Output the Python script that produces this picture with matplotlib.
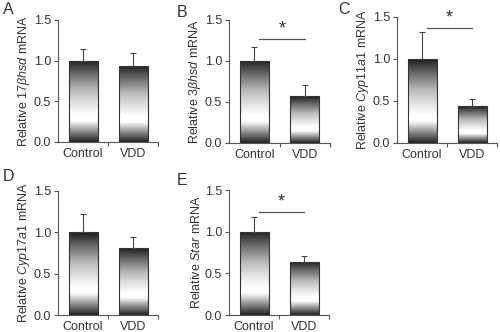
import numpy as np
import matplotlib
matplotlib.use("Agg")
import matplotlib.pyplot as plt
from matplotlib.colors import LinearSegmentedColormap

plt.rcParams['font.family'] = ['Liberation Sans', 'DejaVu Sans']
plt.rcParams['mathtext.fontset'] = 'custom'
plt.rcParams['mathtext.rm'] = 'Liberation Sans'
plt.rcParams['mathtext.it'] = 'Liberation Sans:italic'

# Data
groups = ["Control", "VDD"]
panel_letters = ["A", "B", "C", "D", "E"]
genes = [r"$\mathit{17\beta hsd}$", r"$\mathit{3\beta hsd}$", r"$\mathit{Cyp11a1}$",
         r"$\mathit{Cyp17a1}$", r"$\mathit{Star}$"]
means = [[1.00, 0.94], [1.00, 0.57], [1.00, 0.44], [1.00, 0.81], [1.00, 0.64]]
errors = [[0.14, 0.16], [0.17, 0.14], [0.32, 0.08], [0.22, 0.13], [0.18, 0.07]]
significant = [False, True, True, False, True]
yticks = [0.0, 0.5, 1.0, 1.5]

# Layout (figure fractions: left, bottom, width, height)
axes_rects = [
    (0.116, 0.5723, 0.200, 0.3675),
    (0.458, 0.5693, 0.202, 0.3705),
    (0.794, 0.5693, 0.200, 0.3795),
    (0.116, 0.0512, 0.200, 0.3735),
    (0.458, 0.0512, 0.200, 0.3765),
]
# panel letter positions (figure fractions, top-left of glyph)
letter_pos = [(0.006, 0.994), (0.354, 0.985), (0.676, 0.994),
              (0.006, 0.490), (0.354, 0.480)]
sig_line_y = {1: 1.27, 2: 1.37, 4: 1.24}

# Vertical chrome-like gradient used to fill the bars (bottom -> top)
grad = LinearSegmentedColormap.from_list("chrome", [
    (0.00, (0.13, 0.13, 0.13)),
    (0.12, (0.52, 0.52, 0.52)),
    (0.26, (1.00, 1.00, 1.00)),
    (0.34, (1.00, 1.00, 1.00)),
    (0.50, (0.86, 0.86, 0.86)),
    (0.64, (0.72, 0.72, 0.72)),
    (0.84, (0.40, 0.40, 0.40)),
    (1.00, (0.12, 0.12, 0.12)),
])
gradient = np.linspace(0, 1, 256).reshape(-1, 1)

text_color = "#333333"
spine_color = "#555555"
bar_width = 0.58
fs = 9

fig = plt.figure(figsize=(5.0, 3.32), dpi=100)

for i, rect in enumerate(axes_rects):
    ax = fig.add_axes(rect)
    x = np.arange(len(groups))
    bars = ax.bar(x, means[i], width=bar_width, color="none",
                  edgecolor="#333333", linewidth=0.8, zorder=3)
    for b in bars:
        x0, y0 = b.get_x(), b.get_y()
        w, h = b.get_width(), b.get_height()
        im = ax.imshow(gradient, cmap=grad, origin="lower", aspect="auto",
                       extent=(x0, x0 + w, y0, y0 + h), zorder=2,
                       interpolation="bilinear")
        im.set_clip_path(b)
    ax.errorbar(x, means[i], yerr=[np.zeros(2), errors[i]], fmt="none",
                ecolor="#444444", elinewidth=0.8, capsize=2, capthick=0.8,
                zorder=4)

    ax.set_xlim(-0.5, 1.5)
    ax.set_ylim(0, 1.5)
    ax.set_yticks(yticks)
    ax.set_yticklabels([f"{v:.1f}" for v in yticks])
    ax.set_xticks(x)
    ax.set_xticklabels(groups)
    ax.set_xticks([0.5, 1.5], minor=True)
    ax.tick_params(axis="x", which="major", length=0, pad=4,
                   labelsize=fs, colors=text_color)
    ax.tick_params(axis="x", which="minor", length=3, width=0.8,
                   color=spine_color, direction="out")
    ax.tick_params(axis="y", length=3, width=0.8, color=spine_color,
                   labelsize=fs, labelcolor=text_color, pad=2)
    for s in ("top", "right"):
        ax.spines[s].set_visible(False)
    for s in ("left", "bottom"):
        ax.spines[s].set_color(spine_color)
        ax.spines[s].set_linewidth(0.8)
    ax.set_ylabel("Relative " + genes[i] + " mRNA", fontsize=fs,
                  color=text_color, labelpad=1)

    if significant[i]:
        ys = sig_line_y[i]
        ax.plot([0.1, 1.0], [ys, ys], color="#555555", linewidth=0.9,
                clip_on=False, zorder=5)
        ax.text(0.55, ys + 0.02, "*", ha="center", va="bottom",
                fontsize=13, color=text_color)

    # panel letter
    lx, ly = letter_pos[i]
    fig.text(lx, ly, panel_letters[i], fontsize=11.5,
             color=text_color, ha="left", va="top")

fig.savefig("out.png", dpi=100)
